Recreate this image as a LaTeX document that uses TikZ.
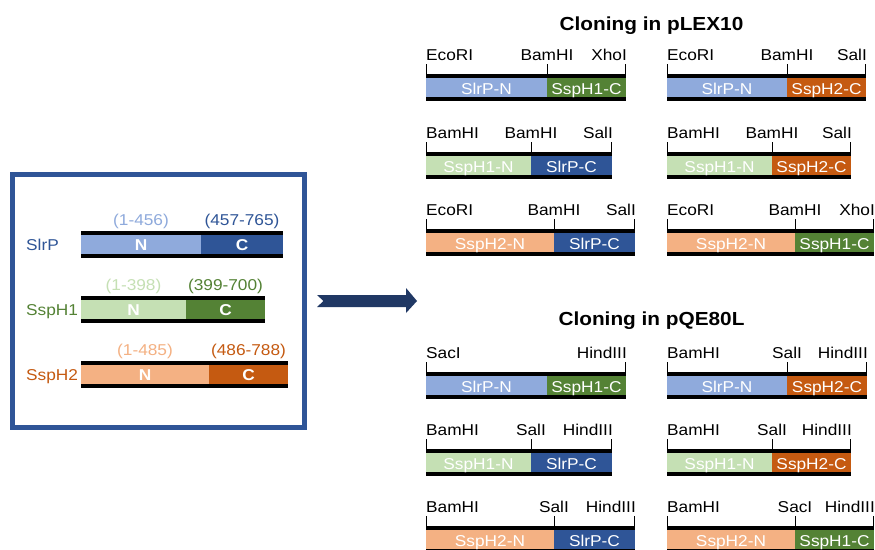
\documentclass[tikz,border=0pt]{standalone}
\usepackage{fontspec}
\setmainfont{Liberation Sans}[FakeStretch=1.1]
\definecolor{lblue}{HTML}{8FAADC}
\definecolor{dblue}{HTML}{2F5597}
\definecolor{lgreen}{HTML}{C5E0B4}
\definecolor{dgreen}{HTML}{548235}
\definecolor{lorange}{HTML}{F4B183}
\definecolor{dorange}{HTML}{C55A11}
\definecolor{navy}{HTML}{203864}
\tikzset{
  lbl/.style={inner sep=0pt, font=\fontsize{15.7}{18}\selectfont, anchor=base},
  bartxt/.style={lbl, text=white},
  nctxt/.style={lbl, text=white, font=\fontsize{15.7}{18}\selectfont\bfseries},
  title/.style={inner sep=0pt, anchor=base, font=\fontsize{18.9}{22}\selectfont\bfseries},
  tickline/.style={draw=black, line width=0.9pt},
}
% #1 x0, #2 split, #3 x1, #4 bar top, #5 N colour, #6 C colour
\newcommand{\gbar}[6]{%
  \fill[black] (#1,#4) rectangle (#3,#4+27);
  \fill[#5] (#1,#4+3.5) rectangle (#2,#4+23);
  \fill[#6] (#2,#4+3.5) rectangle (#3,#4+23);
}
% construct: #1 name, #2 x0, #3 split, #4 x1, #5 top, #6 Ncol, #7 Ntext, #8 Ccol, #9 Ctext
\newcommand{\cons}[9]{%
  \gbar{#2}{#3}{#4}{#5}{#6}{#8}
  \node[bartxt] (#1n) at ({(#2+#3)/2},#5+20.5) {#7};
  \node[bartxt] (#1c) at ({(#3+#4)/2},#5+20.5) {#9};
  \coordinate (#1a) at (#2,#5);
  \coordinate (#1s) at (#3,#5);
  \coordinate (#1b) at (#4,#5);
}
% site labels: #1 name, #2 left, #3 middle (empty = none), #4 right
\newcommand{\sites}[4]{%
  \node[lbl, anchor=base west] (#1L) at ([yshift=13.5pt]#1a) {#2};
  \draw[tickline] ([yshift=10pt]#1a) -- ([yshift=-1pt]#1a);
  \node[lbl, anchor=base east] (#1R) at ([yshift=13.5pt,xshift=1pt]#1b) {#4};
  \draw[tickline] ([yshift=10pt,xshift=-0.5pt]#1b) -- ([yshift=-1pt,xshift=-0.5pt]#1b);
  \if\relax\detokenize{#3}\relax\else
    \node[lbl] (#1M) at ([yshift=13.5pt]#1s) {#3};
    \draw[tickline] ([yshift=10pt]#1s) -- ([yshift=-1pt]#1s);
  \fi
}
\begin{document}
\begin{tikzpicture}[x=1pt,y=-1pt]
\useasboundingbox (0,0) rectangle (875,549);
\fill[white] (0,0) rectangle (875,549);

% ---- left panel
\draw[dblue, line width=5pt] (12,174.5) rectangle (304,427);

\gbar{81}{201}{283}{231}{lblue}{dblue}
\node[nctxt] (s1n) at (141,250) {N};
\node[nctxt] (s1c) at (242,250) {C};
\node[lbl, text=lblue] (s1pn) at (141,225) {(1-456)};
\node[lbl, text=dblue] (s1pc) at (242,225) {(457-765)};
\node[lbl, anchor=base west, text=dblue] (s1) at (26,250) {SlrP};

\gbar{81}{186}{265}{296}{lgreen}{dgreen}
\node[nctxt] (s2n) at (133.5,315) {N};
\node[nctxt] (s2c) at (225.5,315) {C};
\node[lbl, text=lgreen] (s2pn) at (133.5,290) {(1-398)};
\node[lbl, text=dgreen] (s2pc) at (225.5,290) {(399-700)};
\node[lbl, anchor=base west, text=dgreen] (s2) at (26,315) {SspH1};

\gbar{81}{209}{288}{361}{lorange}{dorange}
\node[nctxt] (s3n) at (145,380) {N};
\node[nctxt] (s3c) at (248.5,380) {C};
\node[lbl, text=lorange] (s3pn) at (145,355) {(1-485)};
\node[lbl, text=dorange] (s3pc) at (248.5,355) {(486-788)};
\node[lbl, anchor=base west, text=dorange] (s3) at (26,380) {SspH2};

% ---- arrow
\fill[navy] (317,295) -- (406,295) -- (406,288) -- (417,301) -- (406,313)
  -- (406,307) -- (317,307) -- (323.5,301) -- cycle;

% ---- titles
\node[title] (t1) at (651.5,30) {Cloning in pLEX10};
\node[title] (t2) at (651.5,325) {Cloning in pQE80L};

% ---- pLEX10
\cons{a1}{426}{547}{626}{74}{lblue}{SlrP-N}{dgreen}{SspH1-C}
\sites{a1}{EcoRI}{BamHI}{XhoI}
\cons{a2}{667}{787}{866}{74}{lblue}{SlrP-N}{dorange}{SspH2-C}
\sites{a2}{EcoRI}{BamHI}{SalI}
\cons{a3}{426}{531}{612}{152}{lgreen}{SspH1-N}{dblue}{SlrP-C}
\sites{a3}{BamHI}{BamHI}{SalI}
\cons{a4}{667}{772}{851}{152}{lgreen}{SspH1-N}{dorange}{SspH2-C}
\sites{a4}{BamHI}{BamHI}{SalI}
\cons{a5}{426}{554}{635}{229}{lorange}{SspH2-N}{dblue}{SlrP-C}
\sites{a5}{EcoRI}{BamHI}{SalI}
\cons{a6}{667}{795}{874}{229}{lorange}{SspH2-N}{dgreen}{SspH1-C}
\sites{a6}{EcoRI}{BamHI}{XhoI}

% ---- pQE80L
\cons{b1}{426}{547}{626}{372}{lblue}{SlrP-N}{dgreen}{SspH1-C}
\sites{b1}{SacI}{}{HindIII}
\cons{b2}{667}{787}{867}{372}{lblue}{SlrP-N}{dorange}{SspH2-C}
\sites{b2}{BamHI}{SalI}{HindIII}
\cons{b3}{426}{531}{612}{449}{lgreen}{SspH1-N}{dblue}{SlrP-C}
\sites{b3}{BamHI}{SalI}{HindIII}
\cons{b4}{667}{772}{851}{449}{lgreen}{SspH1-N}{dorange}{SspH2-C}
\sites{b4}{BamHI}{SalI}{HindIII}
\cons{b5}{426}{554}{635}{526}{lorange}{SspH2-N}{dblue}{SlrP-C}
\sites{b5}{BamHI}{SalI}{HindIII}
\cons{b6}{667}{795}{874}{526}{lorange}{SspH2-N}{dgreen}{SspH1-C}
\sites{b6}{BamHI}{SacI}{HindIII}
\end{tikzpicture}
\end{document}
